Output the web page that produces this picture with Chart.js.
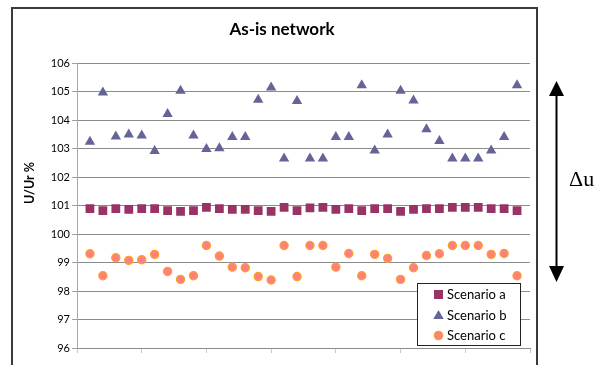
<!DOCTYPE html>
<html><head><meta charset="utf-8">
<script src="https://cdn.jsdelivr.net/npm/chart.js@4.4.1/dist/chart.umd.min.js"></script>
<style>
html,body{margin:0;padding:0;background:#fff;overflow:hidden;width:601px;height:365px}
#wrap{position:absolute;left:0;top:0;width:601px;height:380px}
</style></head><body>
<div id="wrap"><canvas id="c" width="601" height="380"></canvas></div>
<script>
const chartTitle = 'As-is network';
const yAxisTitle = 'U/Ur %';
const seriesNames = ['Scenario a', 'Scenario b', 'Scenario c'];
const xPositions = [1,2,3,4,5,6,7,8,9,10,11,12,13,14,15,16,17,18,19,20,21,22,23,24,25,26,27,28,29,30,31,32,33,34];
const scenarioA = [100.90,100.83,100.90,100.87,100.90,100.90,100.83,100.80,100.83,100.94,100.90,100.87,100.87,100.83,100.80,100.94,100.83,
                   100.92,100.94,100.87,100.90,100.83,100.90,100.90,100.80,100.87,100.90,100.90,100.94,100.94,100.94,100.90,100.90,100.83];
const scenarioB = [103.25,104.98,103.43,103.50,103.47,102.92,104.22,105.04,103.47,102.99,103.02,103.41,103.41,104.72,105.15,102.66,104.68,
                   102.66,102.66,103.41,103.41,105.23,102.94,103.50,105.04,104.70,103.69,103.27,102.66,102.66,102.66,102.94,103.41,105.23];
const scenarioC = [99.31,98.54,99.17,99.08,99.10,99.29,98.69,98.41,98.54,99.60,99.23,98.84,98.82,98.51,98.39,99.60,98.51,
                   99.60,99.60,98.84,99.32,98.54,99.29,99.15,98.41,98.82,99.25,99.31,99.60,99.60,99.60,99.29,99.32,98.54];
const yMin = 96, yMax = 106, xMin = 0, xMax = 35;
const deltaLabel = 'Δu';

function pts(ys){ return xPositions.map((x,i)=>({x:x, y:ys[i]})); }

Chart.defaults.font.family = 'Lato, "Liberation Sans", sans-serif';
Chart.defaults.color = '#000';

const styles = [
  {pointStyle:'rect', pointRadius:6.2, backgroundColor:'#993366', borderColor:'#993366', pointBorderWidth:0},
  {pointStyle:'triangle', pointRadius:6, backgroundColor:'#646499', borderColor:'#646499', pointBorderWidth:0},
  {pointStyle:'circle', pointRadius:4.1, backgroundColor:'#FF8080', borderColor:'#FFA020', pointBorderWidth:1.2}
];
const seriesData = [scenarioA, scenarioB, scenarioC];

const decor = {
  id:'decor',
  afterDraw(chart){
    const ctx = chart.ctx;
    ctx.save();
    // outer chart frame
    ctx.strokeStyle = '#3a3a3a'; ctx.lineWidth = 2;
    ctx.strokeRect(12, 8, 525, 400);
    // y axis title
    ctx.save();
    ctx.translate(30, 183);
    ctx.rotate(-Math.PI/2);
    ctx.font = 'bold 12.5px Lato, sans-serif';
    ctx.fillStyle = '#000';
    ctx.textAlign = 'center'; ctx.textBaseline = 'middle';
    ctx.fillText(yAxisTitle, 0, 0);
    ctx.restore();
    // legend
    ctx.lineWidth = 1; ctx.strokeStyle = '#222';
    ctx.fillStyle = '#fff';
    ctx.fillRect(417, 283, 103, 62);
    ctx.strokeRect(417.5, 283.5, 103, 62);
    const rows = [294.5, 315, 335.5];
    chart.data.datasets.forEach((ds, i) => {
      const cx = 438.5, cy = rows[i];
      ctx.fillStyle = ds.backgroundColor;
      ctx.strokeStyle = ds.borderColor;
      ctx.beginPath();
      if (ds.pointStyle === 'rect') {
        ctx.rect(cx-4.5, cy-4.5, 9, 9); ctx.fill();
      } else if (ds.pointStyle === 'triangle') {
        ctx.moveTo(cx, cy-5); ctx.lineTo(cx+5.2, cy+4); ctx.lineTo(cx-5.2, cy+4); ctx.closePath(); ctx.fill();
      } else {
        ctx.arc(cx, cy, 4.2, 0, Math.PI*2); ctx.fill(); ctx.lineWidth = 1.2; ctx.stroke();
      }
      ctx.fillStyle = '#000';
      ctx.font = '13px Lato, sans-serif';
      ctx.textAlign = 'left'; ctx.textBaseline = 'middle';
      ctx.fillText(ds.label, 447, cy + 0.5);
    });
    // delta arrow outside chart
    ctx.strokeStyle = '#000'; ctx.fillStyle = '#000'; ctx.lineWidth = 2;
    const ax = 556.5;
    ctx.beginPath(); ctx.moveTo(ax, 94); ctx.lineTo(ax, 268); ctx.stroke();
    ctx.beginPath(); ctx.moveTo(ax, 81); ctx.lineTo(ax+7.5, 96); ctx.lineTo(ax-7.5, 96); ctx.closePath(); ctx.fill();
    ctx.beginPath(); ctx.moveTo(ax, 282); ctx.lineTo(ax+7.5, 266); ctx.lineTo(ax-7.5, 266); ctx.closePath(); ctx.fill();
    ctx.font = '22px "Liberation Serif", "Times New Roman", serif';
    ctx.textAlign = 'left'; ctx.textBaseline = 'alphabetic';
    ctx.fillText(deltaLabel, 569, 186);
    ctx.restore();
  }
};

new Chart(document.getElementById('c'), {
  type: 'scatter',
  data: {
    datasets: seriesNames.map((name, i) => Object.assign({label: name, data: pts(seriesData[i]), showLine:false}, styles[i]))
  },
  options: {
    responsive: false,
    animation: false,
    devicePixelRatio: 1,
    layout: {padding: {left: 34, right: 71, top: 0, bottom: 22}},
    plugins: {
      legend: {display: false},
      tooltip: {enabled: false},
      title: {display: true, text: chartTitle, color:'#000', font: {size: 17, weight: 'bold'}, padding: {top: 19, bottom: 24}}
    },
    scales: {
      x: {
        type: 'linear', min: xMin, max: xMax,
        ticks: {stepSize: 5, display: false},
        grid: {drawOnChartArea: false, drawTicks: true, tickLength: 5, color: '#c8c8c8'},
        border: {display: true, color: '#8c8c8c'},
        afterFit: s => { s.height = 10; }
      },
      y: {
        min: yMin, max: yMax,
        ticks: {stepSize: 1, padding: 2, color:'#000', font: {size: 11}},
        grid: {color: '#8c8c8c', tickLength: 5, tickColor: '#a0a0a0'},
        border: {display: true, color: '#a8a8a8'},
        afterFit: s => { s.width = 43; }
      }
    }
  },
  plugins: [decor]
});
</script>
</body></html>
